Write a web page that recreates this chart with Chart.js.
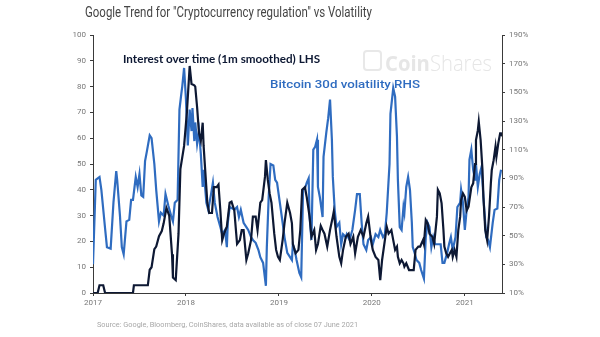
<!DOCTYPE html>
<html>
<head>
<meta charset="utf-8">
<script src="https://cdn.jsdelivr.net/npm/chart.js@4.4.1/dist/chart.umd.min.js"></script>
<style>
  html, body { margin:0; padding:0; background:#fff; }
  #wrap { position:relative; width:600px; height:337px; overflow:hidden; font-family:"Roboto","Liberation Sans",sans-serif; }
  canvas { position:absolute; left:0; top:0; }
  .t { position:absolute; white-space:nowrap; transform-origin:0 50%; }
  #title { left:85px; top:3px; font-size:15px; color:#454545; }
  #lhs { left:123px; top:51px; font-size:12px; font-weight:bold; color:#0d1833; font-family:"Lato","Roboto",sans-serif; }
  #rhs { left:270px; top:77px; font-size:11.5px; font-weight:500; color:#2f6cc0; font-family:"Roboto",sans-serif; }
  #wm { left:385px; top:47px; font-size:22px; color:#e6e6e6; font-family:"Open Sans","Roboto",sans-serif; }
  #wm b { font-weight:700; }
  #wm span { font-weight:300; }
  #icon { position:absolute; left:363px; top:50px; width:15px; height:17px; border:2px solid #e8e8e8; border-radius:4px; }
  #src { left:97px; top:320px; font-size:8px; color:#a8a8a8; }
</style>
</head>
<body>
<div id="wrap">
  <canvas id="c" width="600" height="337"></canvas>
  <div class="t" id="title" data-w="287">Google Trend for "Cryptocurrency regulation" vs Volatility</div>
  <div id="icon"></div>
  <div class="t" id="wm" data-w="107"><b>Coin</b><span>Shares</span></div>
  <div class="t" id="lhs" data-w="197">Interest over time (1m smoothed) LHS</div>
  <div class="t" id="rhs" data-w="150">Bitcoin 30d volatility RHS</div>
  <div class="t" id="src" data-w="261">Source: Google, Bloomberg, CoinShares, data available as of close 07 June 2021</div>
</div>
<script>
// ---- Data (time in decimal years) ----
const yearTicks = [2017, 2018, 2019, 2020, 2021];
const leftTicks = [0, 10, 20, 30, 40, 50, 60, 70, 80, 90, 100];
const rightTicks = [10, 30, 50, 70, 90, 110, 130, 150, 170, 190];

// Google Trend "Cryptocurrency regulation" interest (LHS, 0-100)
const trendTime = [2017.00,2017.05,2017.07,2017.11,2017.13,2017.43,2017.44,2017.59,2017.61,2017.63,2017.66,2017.68,2017.71,2017.74,2017.76,2017.79,2017.82,2017.85,2017.86,2017.89,2017.92,2017.94,2017.98,2018.01,2018.04,2018.06,2018.09,2018.10,2018.12,2018.14,2018.16,2018.18,2018.19,2018.21,2018.23,2018.25,2018.28,2018.30,2018.33,2018.35,2018.37,2018.39,2018.41,2018.44,2018.47,2018.49,2018.52,2018.55,2018.58,2018.60,2018.62,2018.65,2018.67,2018.70,2018.72,2018.75,2018.77,2018.80,2018.82,2018.85,2018.86,2018.88,2018.90,2018.92,2018.95,2018.97,2018.99,2019.01,2019.04,2019.06,2019.09,2019.12,2019.14,2019.15,2019.18,2019.21,2019.23,2019.25,2019.28,2019.30,2019.33,2019.35,2019.38,2019.40,2019.42,2019.45,2019.47,2019.49,2019.52,2019.55,2019.58,2019.59,2019.62,2019.65,2019.67,2019.69,2019.72,2019.75,2019.77,2019.80,2019.82,2019.85,2019.88,2019.91,2019.94,2019.96,2019.99,2020.01,2020.04,2020.07,2020.09,2020.11,2020.14,2020.16,2020.18,2020.21,2020.23,2020.25,2020.27,2020.28,2020.30,2020.32,2020.34,2020.35,2020.37,2020.40,2020.43,2020.45,2020.47,2020.50,2020.52,2020.55,2020.56,2020.58,2020.60,2020.62,2020.65,2020.67,2020.70,2020.71,2020.73,2020.75,2020.77,2020.78,2020.80,2020.82,2020.84,2020.86,2020.87,2020.89,2020.91,2020.93,2020.95,2020.96,2020.98,2021.00,2021.02,2021.04,2021.05,2021.07,2021.09,2021.11,2021.12,2021.14,2021.15,2021.17,2021.19,2021.20,2021.22,2021.24,2021.26,2021.28,2021.29,2021.31,2021.33,2021.34,2021.36,2021.38,2021.39,2021.41];
const trendValue = [0,0,3,3,0,0,3,3,9,10,17,18,22,24,27,33,30,15,6,5,23,48,57,70,88,81,80.5,80,72,62,59,66,57,46,35,31,31,41,41,42,32,20.5,23,25.7,35,35.4,32,19,20.5,24.4,24.4,12.8,15.4,20.5,29.6,29.6,24.4,35,36,45,51.5,44,38.6,35,23,16.7,14,12.8,20.5,27,35,31,27,19,15.4,16.7,24.4,40,41,37,29.6,21.8,24.4,16.7,19,26,24.4,23,18,24.4,29.6,31.5,21.8,14,11.5,16.7,21.8,23,19,21.8,15.4,21.8,24.4,21.8,27,29.6,20.5,16.7,14,12.8,5,12.8,20.5,25.7,23,24.4,20.5,16.7,18,14,11.5,12.8,11.5,10.2,11.5,8.9,8.9,8.9,16.7,18,18,20.5,19,28.3,27,23,21.8,19,29.6,40,38.6,34.8,24.4,18,15.4,14,15.4,16.7,14,16.7,14,24.4,29.6,36,38.6,37.3,32,33.5,36,41,42.5,50,59.3,63,66.4,59.3,47.7,37.3,24.4,20.5,29.6,42.5,47.7,51.5,56.7,52.8,58,61.9,61.9,60.6];

// Bitcoin 30d volatility (RHS, %)
const volTime = [2017.00,2017.03,2017.07,2017.09,2017.13,2017.15,2017.19,2017.22,2017.25,2017.26,2017.29,2017.31,2017.33,2017.36,2017.39,2017.41,2017.43,2017.46,2017.48,2017.50,2017.52,2017.54,2017.56,2017.58,2017.61,2017.63,2017.66,2017.68,2017.71,2017.73,2017.76,2017.78,2017.81,2017.84,2017.86,2017.88,2017.91,2017.93,2017.95,2017.96,2017.98,2018.00,2018.02,2018.04,2018.06,2018.07,2018.09,2018.10,2018.12,2018.14,2018.16,2018.18,2018.19,2018.22,2018.24,2018.27,2018.29,2018.31,2018.34,2018.37,2018.39,2018.42,2018.44,2018.45,2018.47,2018.50,2018.52,2018.55,2018.57,2018.59,2018.62,2018.65,2018.67,2018.70,2018.72,2018.75,2018.78,2018.80,2018.83,2018.86,2018.87,2018.89,2018.91,2018.94,2018.96,2018.98,2019.01,2019.04,2019.06,2019.09,2019.12,2019.14,2019.15,2019.17,2019.19,2019.22,2019.24,2019.26,2019.28,2019.30,2019.32,2019.33,2019.35,2019.37,2019.39,2019.41,2019.42,2019.44,2019.47,2019.48,2019.51,2019.53,2019.55,2019.57,2019.58,2019.60,2019.62,2019.65,2019.67,2019.69,2019.72,2019.73,2019.76,2019.79,2019.82,2019.84,2019.87,2019.89,2019.91,2019.94,2019.96,2019.99,2020.01,2020.04,2020.07,2020.09,2020.12,2020.14,2020.16,2020.19,2020.20,2020.23,2020.25,2020.27,2020.28,2020.30,2020.32,2020.34,2020.35,2020.37,2020.39,2020.41,2020.43,2020.44,2020.46,2020.48,2020.51,2020.53,2020.56,2020.58,2020.60,2020.62,2020.64,2020.66,2020.68,2020.71,2020.74,2020.76,2020.78,2020.81,2020.83,2020.85,2020.87,2020.90,2020.92,2020.95,2020.96,2020.98,2021.00,2021.02,2021.04,2021.05,2021.07,2021.09,2021.11,2021.12,2021.14,2021.16,2021.18,2021.20,2021.23,2021.25,2021.27,2021.30,2021.32,2021.35,2021.37,2021.39];
const volValue = [30,89,91,82,55,42,41,73,95,89,64,42,37,60,61,75,75,91,84,93,78,77,102,109,120,118,100,82,60,66,64,79,71,64,60,73,75,138,149,154,167,145,113,138,123,139,116,129,114,123,107,84,96,73,68,79,87,73,63,56,51,54,42,59,70,69,68,70,63,68,59,56,54,49,47,45,40,35,31,15,42,77,100,99,89,87,73,59,49,38,35,33,44,40,33,24,21,82,83,87,90,63,47,110,112,117,84,77,63,105,122,132,145,117,91,68,56,59,44,51,49,51,47,54,68,79,79,59,44,40,47,49,44,51,49,54,49,51,66,100,135,153,147,119,89,56,54,70,66,84,91,82,59,42,38,33,31,26,20,49,59,56,42,49,44,44,44,31,31,38,44,49,40,49,70,73,82,73,54,68,77,103,110,96,89,100,84,93,98,77,49,47,42,59,68,69,89,96];

const trendPts = trendTime.map((t, i) => ({ x: t, y: trendValue[i] }));
const volPts = volTime.map((t, i) => ({ x: t, y: volValue[i] }));

// fit annotation texts horizontally to their reference widths
document.querySelectorAll('[data-w]').forEach(el => {
  const w = el.getBoundingClientRect().width;
  const target = +el.dataset.w;
  if (w > 0) el.style.transform = 'scaleX(' + (target / w).toFixed(3) + ')';
});

const axisColor = '#3a3a3a';
const tickFont = { family: '"Roboto",sans-serif', size: 8 };

new Chart(document.getElementById('c'), {
  type: 'line',
  data: {
    datasets: [
      { label: 'Bitcoin 30d volatility RHS', data: volPts, yAxisID: 'yR', borderColor: '#2f6cc0', borderWidth: 2.2, pointRadius: 0, tension: 0, order: 2 },
      { label: 'Interest over time (1m smoothed) LHS', data: trendPts, yAxisID: 'yL', borderColor: '#0d1833', borderWidth: 2.2, pointRadius: 0, tension: 0, order: 1 }
    ]
  },
  options: {
    responsive: false,
    animation: false,
    layout: { padding: { top: 35, left: 0, right: 0, bottom: 0 } },
    plugins: { legend: { display: false }, tooltip: { enabled: false }, title: { display: false } },
    scales: {
      x: {
        type: 'linear',
        min: 2017, max: 2021.40,
        afterFit: s => { s.height = 44; },
        afterBuildTicks: s => { s.ticks = yearTicks.map(v => ({ value: v })); },
        ticks: { color: '#777', font: tickFont, padding: 2, maxRotation: 0, callback: v => String(v) },
        grid: { drawOnChartArea: false, drawTicks: true, tickLength: 3, color: axisColor },
        border: { display: true, color: axisColor, width: 1 }
      },
      yL: {
        position: 'left',
        min: 0, max: 100,
        afterFit: s => { s.width = 93; },
        afterBuildTicks: s => { s.ticks = leftTicks.map(v => ({ value: v })); },
        ticks: { color: '#777', font: tickFont, padding: 4, callback: v => String(v) },
        grid: { drawOnChartArea: false, drawTicks: true, tickLength: 3, color: axisColor },
        border: { display: true, color: axisColor, width: 1 }
      },
      yR: {
        position: 'right',
        min: 10, max: 190,
        afterFit: s => { s.width = 98; },
        afterBuildTicks: s => { s.ticks = rightTicks.map(v => ({ value: v })); },
        ticks: { color: '#777', font: tickFont, padding: 4, callback: v => v + '%' },
        grid: { drawOnChartArea: false, drawTicks: true, tickLength: 3, color: axisColor },
        border: { display: true, color: axisColor, width: 1 }
      }
    }
  }
});
</script>
</body>
</html>
